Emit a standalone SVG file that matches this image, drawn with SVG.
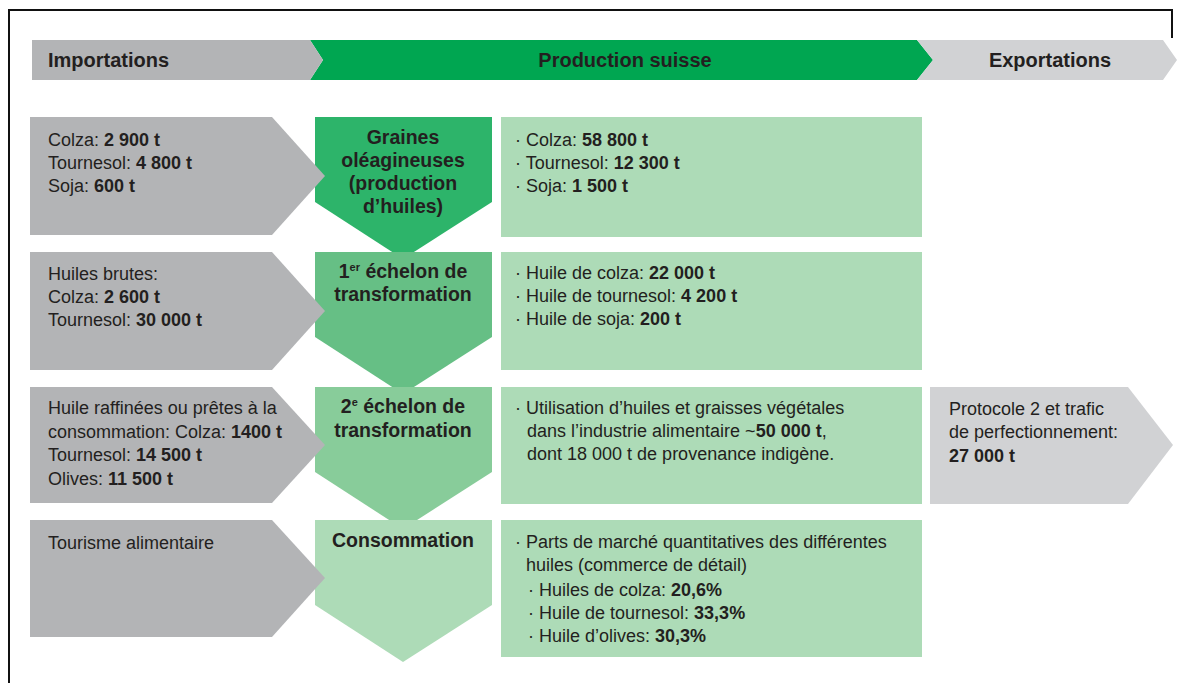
<svg xmlns="http://www.w3.org/2000/svg" width="1178" height="683" viewBox="0 0 1178 683">
<style>
text{font-family:"Liberation Sans",Arial,sans-serif;fill:#231f20;}
.hd{font-size:20px;font-weight:bold;}
.t{font-size:18px;}
.b{font-weight:bold;}
.n{font-size:19.5px;font-weight:bold;text-anchor:middle;}
.imp{fill:#b3b4b6;}
.exp{fill:#d1d2d4;}
.box{fill:#addbb7;}
</style>
<rect width="1178" height="683" fill="#ffffff"/>
<path d="M9,683 V10 H1172 V38" fill="none" stroke="#111" stroke-width="2"/>

<g id="header">
  <polygon points="310,40 917,40 933,60 917,80 310,80 323,60" fill="#00a651"/>
  <polygon points="32,40 310,40 323,60 310,80 32,80" fill="#b3b4b6"/>
  <polygon points="917,40 1163,40 1177,60 1163,80 917,80 933,60" fill="#d1d2d4"/>
  <text class="hd" x="48" y="67">Importations</text>
  <text class="hd" x="625" y="67" text-anchor="middle">Production suisse</text>
  <text class="hd" x="1050" y="67" text-anchor="middle">Exportations</text>
</g>

<g id="connectors"></g>

<g id="node-graines">
  <polygon points="315,117 492,117 492,202 403,259 315,202" fill="#2db46a"/>
  <text class="n" x="403" y="144">Graines</text>
  <text class="n" x="403" y="167">oléagineuses</text>
  <text class="n" x="403" y="190">(production</text>
  <text class="n" x="403" y="213">d’huiles)</text>
</g>
<g id="node-echelon1">
  <polygon points="315,252 492,252 492,337 403,394 315,337" fill="#66bf85"/>
  <text class="n" x="403" y="278">1<tspan font-size="11" dy="-7">er</tspan><tspan dy="7"> échelon de</tspan></text>
  <text class="n" x="403" y="301">transformation</text>
</g>
<g id="node-echelon2">
  <polygon points="315,387 492,387 492,472 403,529 315,472" fill="#88cc9a"/>
  <text class="n" x="403" y="413">2<tspan font-size="11" dy="-7">e</tspan><tspan dy="7"> échelon de</tspan></text>
  <text class="n" x="403" y="437">transformation</text>
</g>
<g id="node-consommation">
  <polygon points="315,520 492,520 492,605 403,662 315,605" fill="#addbb7"/>
  <text class="n" x="403" y="547">Consommation</text>
</g>

<g id="import-1">
  <polygon class="imp" points="30,117 272,117 325,176 272,235 30,235"/>
  <text class="t" x="48" y="146">Colza: <tspan class="b">2 900 t</tspan></text>
  <text class="t" x="48" y="169">Tournesol: <tspan class="b">4 800 t</tspan></text>
  <text class="t" x="48" y="192">Soja: <tspan class="b">600 t</tspan></text>
</g>
<g id="import-2">
  <polygon class="imp" points="30,252 272,252 325,311 272,370 30,370"/>
  <text class="t" x="48" y="280">Huiles brutes:</text>
  <text class="t" x="48" y="303">Colza: <tspan class="b">2 600 t</tspan></text>
  <text class="t" x="48" y="326">Tournesol: <tspan class="b">30 000 t</tspan></text>
</g>
<g id="import-3">
  <polygon class="imp" points="30,387 272,387 325,445 272,503 30,503"/>
  <text class="t" x="48" y="414">Huile raffinées ou prêtes à la</text>
  <text class="t" x="48" y="438">consommation: Colza: <tspan class="b">1400 t</tspan></text>
  <text class="t" x="48" y="461">Tournesol: <tspan class="b">14 500 t</tspan></text>
  <text class="t" x="48" y="485">Olives: <tspan class="b">11 500 t</tspan></text>
</g>
<g id="import-4">
  <polygon class="imp" points="30,520 272,520 325,578 272,637 30,637"/>
  <text class="t" x="48" y="549">Tourisme alimentaire</text>
</g>

<g id="prod-1">
  <rect class="box" x="501" y="117" width="421" height="120"/>
  <text class="t" x="515" y="146">· Colza: <tspan class="b">58 800 t</tspan></text>
  <text class="t" x="515" y="169">· Tournesol: <tspan class="b">12 300 t</tspan></text>
  <text class="t" x="515" y="192">· Soja: <tspan class="b">1 500 t</tspan></text>
</g>
<g id="prod-2">
  <rect class="box" x="501" y="252" width="421" height="118"/>
  <text class="t" x="515" y="279">· Huile de colza: <tspan class="b">22 000 t</tspan></text>
  <text class="t" x="515" y="302">· Huile de tournesol: <tspan class="b">4 200 t</tspan></text>
  <text class="t" x="515" y="325">· Huile de soja: <tspan class="b">200 t</tspan></text>
</g>
<g id="prod-3">
  <rect class="box" x="501" y="387" width="421" height="117"/>
  <text class="t" x="515" y="414">· Utilisation d’huiles et graisses végétales</text>
  <text class="t" x="527" y="437">dans l’industrie alimentaire ~<tspan class="b">50 000 t</tspan>,</text>
  <text class="t" x="527" y="460">dont 18 000 t de provenance indigène.</text>
</g>
<g id="prod-4">
  <rect class="box" x="501" y="520" width="421" height="137"/>
  <text class="t" x="515" y="548">· Parts de marché quantitatives des différentes</text>
  <text class="t" x="526" y="571">huiles (commerce de détail)</text>
  <text class="t" x="528" y="596">· Huiles de colza: <tspan class="b">20,6%</tspan></text>
  <text class="t" x="528" y="619">· Huile de tournesol: <tspan class="b">33,3%</tspan></text>
  <text class="t" x="528" y="642">· Huile d’olives: <tspan class="b">30,3%</tspan></text>
</g>

<g id="export-1">
  <polygon class="exp" points="930,387 1128,387 1173,445 1128,504 930,504"/>
  <text class="t" x="949" y="415">Protocole 2 et trafic</text>
  <text class="t" x="949" y="438">de perfectionnement:</text>
  <text class="t b" x="949" y="462">27 000 t</text>
</g>
</svg>
